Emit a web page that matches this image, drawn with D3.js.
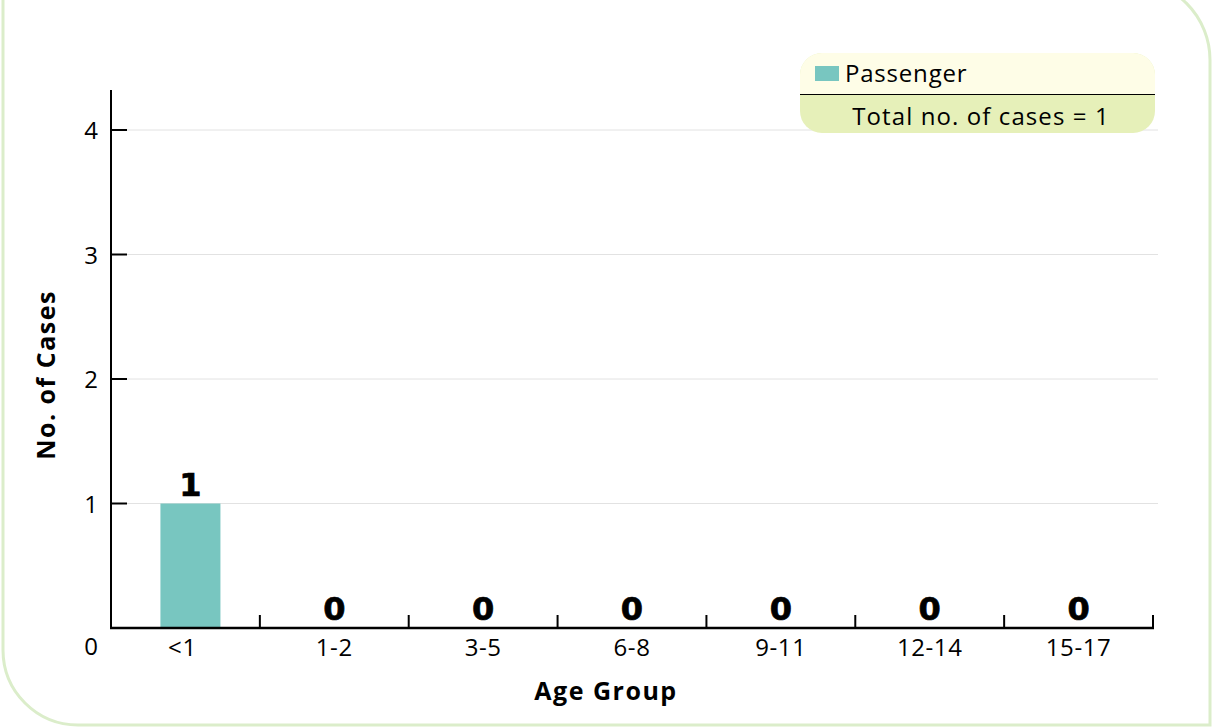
<body style="margin:0;background:#fff">
<div id="chart"></div>
<script src="https://cdn.jsdelivr.net/npm/d3@7/dist/d3.min.js"></script>
<script>
// data
const ageGroups = ["<1", "1-2", "3-5", "6-8", "9-11", "12-14", "15-17"];
const passengerCases = [1, 0, 0, 0, 0, 0, 0];
const yTicks = [0, 1, 2, 3, 4];
const seriesName = "Passenger";
const totalLabel = "Total no. of cases = " + d3.sum(passengerCases);

const width = 1212, height = 727;
const font = "'Open Sans', 'Noto Sans', sans-serif";

const svg = d3.select("#chart").append("svg")
  .attr("width", width)
  .attr("height", height)
  .style("display", "block");

// outer frame: rounded top-right and bottom-left corners only
const fr = { l: 3, r: 1210, t: -20, b: 725 };
svg.append("path")
  .attr("d", `M${fr.l},${fr.t} H${fr.r - 80} A80,80 0 0 1 ${fr.r},${fr.t + 80} V${fr.b} H${fr.l + 75} A75,75 0 0 1 ${fr.l},${fr.b - 75} Z`)
  .attr("fill", "#fff")
  .attr("stroke", "#dbedca")
  .attr("stroke-width", 3);

const x0 = 111, x1 = 1153, yBase = 628;
const x = d3.scaleBand().domain(ageGroups).range([x0, x1]);
const y = d3.scaleLinear().domain([0, 4]).range([yBase, 130]);

// gridlines
svg.append("g").selectAll("line")
  .data(yTicks.filter(d => d > 0))
  .join("line")
  .attr("x1", x0).attr("x2", 1158)
  .attr("y1", d => y(d)).attr("y2", d => y(d))
  .attr("stroke", "#e2e2e2").attr("stroke-width", 1);

// bars
const barW = 60;
svg.append("g").selectAll("rect")
  .data(passengerCases)
  .join("rect")
  .attr("x", (d, i) => x(ageGroups[i]) + x.bandwidth() / 2 - barW / 2 + 5)
  .attr("y", d => y(d))
  .attr("width", barW)
  .attr("height", d => yBase - y(d))
  .attr("fill", "#78c6c0");

// value labels
svg.append("g").selectAll("text")
  .data(passengerCases)
  .join("text")
  .attr("x", (d, i) => x(ageGroups[i]) + x.bandwidth() / 2 + (d > 0 ? 5 : 0))
  .attr("y", d => y(d) - 8)
  .attr("text-anchor", "middle")
  .attr("font-family", "'DejaVu Sans', sans-serif")
  .attr("font-weight", 700)
  .attr("font-size", 32)
  .attr("stroke", "#000")
  .attr("stroke-width", 0.7)
  .attr("fill", "#000")
  .text(d => d);

// y axis
const yAxis = svg.append("g").attr("transform", `translate(${x0},0)`);
yAxis.append("line")
  .attr("x1", 0).attr("x2", 0)
  .attr("y1", 90).attr("y2", yBase + 1)
  .attr("stroke", "#000").attr("stroke-width", 2);
yAxis.selectAll(".tk")
  .data(yTicks.filter(d => d > 0))
  .join("line")
  .attr("x1", 0).attr("x2", 16)
  .attr("y1", d => y(d)).attr("y2", d => y(d))
  .attr("stroke", "#000").attr("stroke-width", 2);
yAxis.selectAll("text")
  .data(yTicks)
  .join("text")
  .attr("x", -13)
  .attr("y", d => d === 0 ? y(d) + 27 : y(d) + 9)
  .attr("text-anchor", "end")
  .attr("font-family", font)
  .attr("font-size", 24)
  .attr("fill", "#000")
  .text(d => d);

// x axis
const xAxis = svg.append("g").attr("transform", `translate(0,${yBase})`);
xAxis.append("line")
  .attr("x1", x0 - 1).attr("x2", x1 + 1)
  .attr("y1", 0).attr("y2", 0)
  .attr("stroke", "#000").attr("stroke-width", 2.5);
xAxis.selectAll(".tk")
  .data(ageGroups)
  .join("line")
  .attr("x1", d => x(d) + x.bandwidth()).attr("x2", d => x(d) + x.bandwidth())
  .attr("y1", 0).attr("y2", -13)
  .attr("stroke", "#000").attr("stroke-width", 2);
xAxis.selectAll("text")
  .data(ageGroups)
  .join("text")
  .attr("x", (d, i) => x(d) + x.bandwidth() / 2 - (i === 0 ? 3 : 0))
  .attr("y", 28)
  .attr("text-anchor", "middle")
  .attr("font-family", font)
  .attr("font-size", 24)
  .attr("letter-spacing", 0.6)
  .attr("fill", "#000")
  .text(d => d);

// axis titles
svg.append("text")
  .attr("x", 606).attr("y", 700)
  .attr("text-anchor", "middle")
  .attr("font-family", font)
  .attr("font-weight", 700)
  .attr("font-size", 25)
  .attr("letter-spacing", 1.5)
  .text("Age Group");
svg.append("text")
  .attr("transform", "translate(55,375) rotate(-90)")
  .attr("text-anchor", "middle")
  .attr("font-family", font)
  .attr("font-weight", 700)
  .attr("font-size", 25)
  .attr("letter-spacing", 1.5)
  .text("No. of Cases");

// legend box
const lg = svg.append("g").attr("transform", "translate(800,53)");
const lw = 355, lh = 80, lr = 22;
lg.append("rect").attr("width", lw).attr("height", lh).attr("rx", lr).attr("fill", "#e6f0b9");
lg.append("path")
  .attr("d", `M0,41 V${lr} A${lr},${lr} 0 0 1 ${lr},0 H${lw - lr} A${lr},${lr} 0 0 1 ${lw},${lr} V41 Z`)
  .attr("fill", "#fefde7");
lg.append("line").attr("x1", 0).attr("x2", lw).attr("y1", 41.5).attr("y2", 41.5)
  .attr("stroke", "#000").attr("stroke-width", 1);
lg.append("rect").attr("x", 15).attr("y", 13).attr("width", 24).attr("height", 15).attr("fill", "#78c6c0");
lg.append("text").attr("x", 45).attr("y", 29)
  .attr("font-family", font).attr("font-size", 24).attr("letter-spacing", 0.8).text(seriesName);
lg.append("text").attr("x", 181).attr("y", 72)
  .attr("text-anchor", "middle")
  .attr("font-family", font).attr("font-size", 24).attr("letter-spacing", 1.1).text(totalLabel);
</script>
</body>
